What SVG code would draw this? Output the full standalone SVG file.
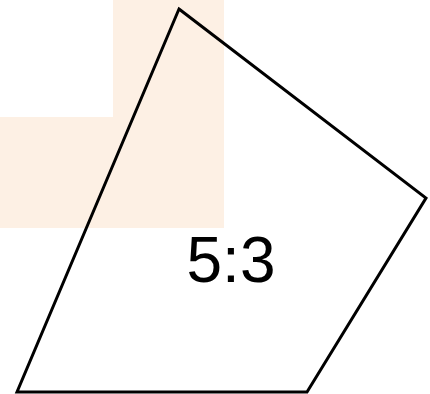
<svg xmlns="http://www.w3.org/2000/svg" width="430" height="394" viewBox="0 0 430 394">
<style>
.bg{fill:#fdf0e4;stroke:none}
.shape{fill:none;stroke:#000;stroke-width:3;stroke-linejoin:miter}
.lbl{font-family:"Liberation Sans",Arial,sans-serif;font-size:64px;fill:#000;text-anchor:middle}
</style>
<g id="background">
<path class="bg" d="M113,0 H224 V228 H0 V117 H113 Z"/>
</g>
<g id="quad">
<polygon class="shape" points="179,9 426,198 307,392 17,392"/>
<text class="lbl" x="231" y="282">5:3</text>
</g>
<g id="connectors"></g>
</svg>
